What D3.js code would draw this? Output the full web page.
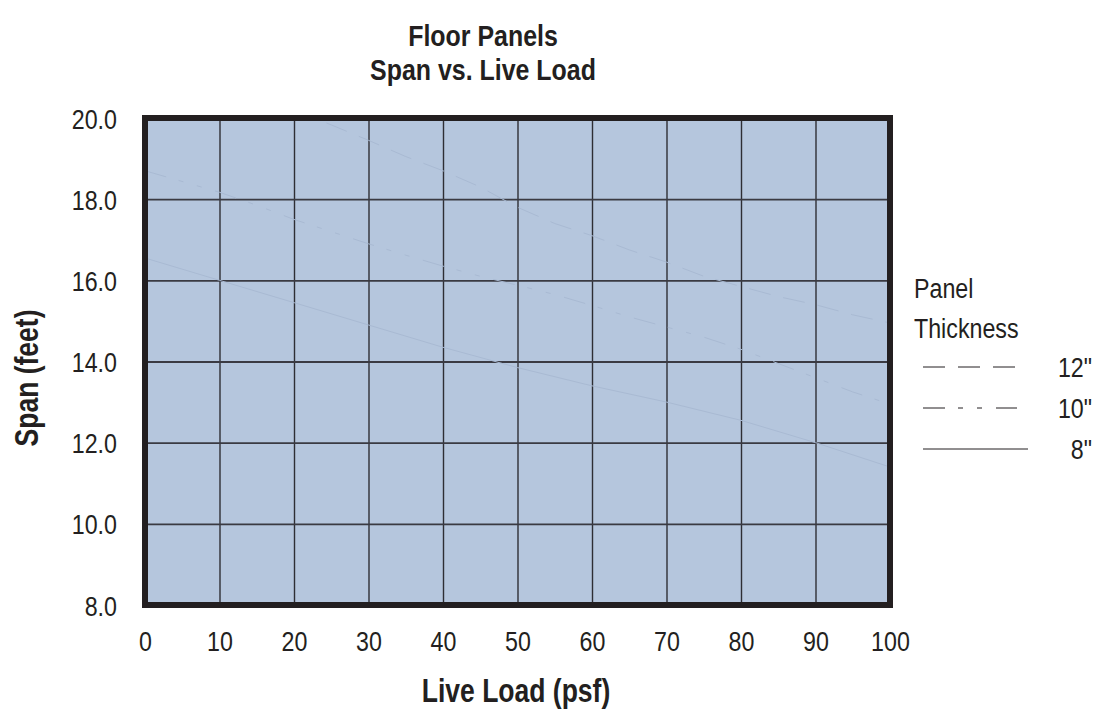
<!DOCTYPE html>
<html>
<head>
<meta charset="utf-8">
<script src="https://cdn.jsdelivr.net/npm/d3@7"></script>
<style>
  html, body { margin: 0; padding: 0; background: #ffffff; }
  svg { display: block; }
  text { font-family: "Liberation Sans", Arial, Helvetica, sans-serif; fill: #231f20; }
</style>
</head>
<body>
<svg id="chart" width="1101" height="715"></svg>
<script>
// ---- data ----
const titleLines = ["Floor Panels", "Span vs. Live Load"];
const xTicks = [0, 10, 20, 30, 40, 50, 60, 70, 80, 90, 100];
const yTicks = [8, 10, 12, 14, 16, 18, 20];
const xLabel = "Live Load (psf)";
const yLabel = "Span (feet)";
const legendTitle = ["Panel", "Thickness"];
const seriesNames = ['12"', '10"', '8"'];

const load12 = [20, 25, 30, 35, 40, 45, 50, 55, 60, 65, 70, 75, 80, 85, 90, 95, 100];
const span12 = [20.2, 19.83, 19.45, 19.05, 18.7, 18.3, 17.8, 17.4, 17.1, 16.75, 16.45, 16.1, 15.85, 15.6, 15.4, 15.15, 14.95];

const load10 = [0, 10, 15, 20, 25, 30, 35, 40, 45, 50, 55, 60, 65, 70, 75, 80, 85, 90, 95, 100];
const span10 = [18.7, 18.17, 17.85, 17.5, 17.2, 16.9, 16.62, 16.35, 16.1, 15.88, 15.65, 15.38, 15.1, 14.85, 14.6, 14.3, 13.95, 13.6, 13.25, 12.95];

const load8 = [0, 10, 20, 30, 40, 50, 60, 70, 80, 90, 100];
const span8 = [16.55, 16.0, 15.45, 14.9, 14.35, 13.85, 13.4, 13.0, 12.55, 12.0, 11.4];

// ---- layout ----
const svg = d3.select("#chart");
const L = 145, R = 890, T = 118, B = 605;
const x = d3.scaleLinear().domain([0, 100]).range([L, R]);
const y = d3.scaleLinear().domain([8, 20]).range([B, T]);
const SX_REG = 0.83, SX_BOLD = 0.78;

function placeText(sel, px, py, s) {
  sel.attr("transform", function (d, i) {
    const X = typeof px === "function" ? px(d, i) : px;
    const Y = typeof py === "function" ? py(d, i) : py;
    return `translate(${X},${Y}) scale(${s},1)`;
  });
  return sel;
}

// title
svg.append("g").selectAll("text").data(titleLines).join("text")
  .call(placeText, 483, (d, i) => 46 + i * 34, 0.86)
  .attr("text-anchor", "middle")
  .attr("font-size", 29).attr("font-weight", "bold")
  .text(d => d);

// plot background
svg.append("rect").attr("x", L).attr("y", T).attr("width", R - L).attr("height", B - T)
  .attr("fill", "#b5c6dd");

// grid
const gx = d3.axisBottom(x).tickValues(xTicks.slice(1, -1)).tickSize(-(B - T)).tickFormat("");
svg.append("g").attr("transform", `translate(0,${B})`).call(gx)
  .call(g => g.select(".domain").remove())
  .call(g => g.selectAll("line").attr("stroke", "#2e2e34").attr("stroke-width", 1.4));
const gy = d3.axisLeft(y).tickValues(yTicks.slice(1, -1)).tickSize(-(R - L)).tickFormat("");
svg.append("g").attr("transform", `translate(${L},0)`).call(gy)
  .call(g => g.select(".domain").remove())
  .call(g => g.selectAll("line").attr("stroke", "#3a3a42").attr("stroke-width", 1.8));

// series lines (very faint)
svg.append("clipPath").attr("id", "plotclip")
  .append("rect").attr("x", L).attr("y", T).attr("width", R - L).attr("height", B - T);
const line = d3.line().x(d => x(d[0])).y(d => y(d[1]));
const series = [
  { pts: d3.zip(load12, span12), dash: "22,13" },
  { pts: d3.zip(load10, span10), dash: "22,13,5,14,5,14" },
  { pts: d3.zip(load8, span8), dash: null }
];
svg.append("g").attr("clip-path", "url(#plotclip)").selectAll("path").data(series).join("path")
  .attr("d", d => line(d.pts))
  .attr("fill", "none")
  .attr("stroke", "#a9bad3")
  .attr("stroke-width", 1)
  .attr("stroke-dasharray", d => d.dash);

// frame
svg.append("rect").attr("x", L).attr("y", T).attr("width", R - L).attr("height", B - T)
  .attr("fill", "none").attr("stroke", "#231f20").attr("stroke-width", 6);

// x tick labels
const ax = d3.axisBottom(x).tickValues(xTicks).tickSize(0).tickPadding(0).tickFormat(d3.format("d"));
svg.append("g").attr("transform", `translate(0,${B + 46})`).call(ax)
  .call(g => g.select(".domain").remove())
  .call(g => g.selectAll("text").attr("font-size", 28).attr("dy", 0)
      .attr("transform", `scale(${SX_REG},1)`)
      .attr("font-family", "'Liberation Sans', Arial, sans-serif").attr("fill", "#231f20"));

// y tick labels
const ay = d3.axisLeft(y).tickValues(yTicks).tickSize(0).tickPadding(0).tickFormat(d3.format(".1f"));
svg.append("g").attr("transform", `translate(${L - 28},0)`).call(ay)
  .call(g => g.select(".domain").remove())
  .call(g => g.selectAll("text").attr("font-size", 28).attr("dy", "0.36em")
      .attr("transform", `scale(${SX_REG},1)`)
      .attr("font-family", "'Liberation Sans', Arial, sans-serif").attr("fill", "#231f20"));

// axis titles
svg.append("text").call(placeText, 516, 702, SX_BOLD).attr("text-anchor", "middle")
  .attr("font-size", 34).attr("font-weight", "bold").text(xLabel);
svg.append("text").attr("transform", `translate(38,378) rotate(-90) scale(${SX_BOLD},1)`)
  .attr("text-anchor", "middle")
  .attr("font-size", 34).attr("font-weight", "bold").text(yLabel);

// legend
svg.append("g").selectAll("text").data(legendTitle).join("text")
  .call(placeText, 914, (d, i) => 298 + i * 40, SX_REG)
  .attr("font-size", 28).text(d => d);
const legY = [367, 408, 449];
const legDash = ["22,13", "22,13,5,14,5,14,22", null];
const legX2 = [1015, 1017, 1028];
const lg = svg.append("g").selectAll("g").data(seriesNames).join("g");
lg.append("line").attr("x1", 923).attr("x2", (d, i) => legX2[i])
  .attr("y1", (d, i) => legY[i]).attr("y2", (d, i) => legY[i])
  .attr("stroke", "#231f20").attr("stroke-width", 1)
  .attr("stroke-dasharray", (d, i) => legDash[i]);
lg.append("text").call(placeText, 1092, (d, i) => legY[i] + 10, SX_REG)
  .attr("text-anchor", "end").attr("font-size", 28).text(d => d);
</script>
</body>
</html>
